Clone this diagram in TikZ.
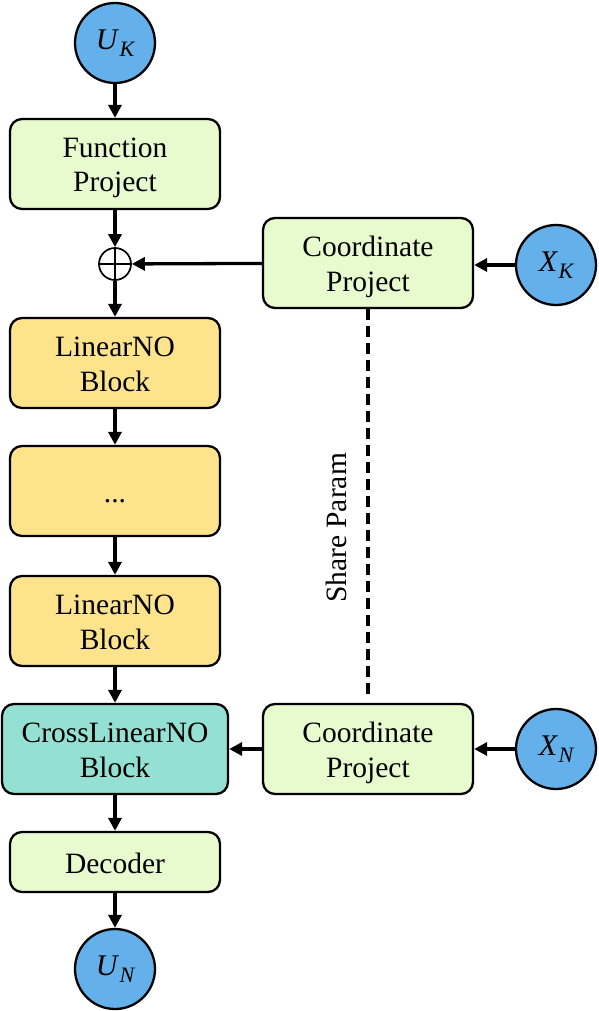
\documentclass[tikz,border=0pt]{standalone}
\usepackage{fontspec}
\setmainfont{Liberation Serif}
\usetikzlibrary{arrows.meta}
\definecolor{lgreen}{RGB}{231,251,206}
\definecolor{lorange}{RGB}{252,227,140}
\definecolor{lteal}{RGB}{148,225,212}
\definecolor{lblue}{RGB}{99,176,235}
\newcommand{\sym}[2]{\textit{#1}\kern0.5pt\raisebox{-7pt}{\fontsize{22}{22}\selectfont\itshape #2}}
\tikzset{
  box/.style={draw=black, line width=2.3pt, rounded corners=12pt, minimum width=210pt, minimum height=90pt, inner sep=0pt, align=center, font=\fontsize{29.5}{35}\selectfont},
  two/.style={text height=56pt, text depth=0pt},
  one/.style={text height=22pt, text depth=0pt},
  io/.style={draw=black, line width=2.3pt, circle, fill=lblue, minimum size=80pt, inner sep=0pt, font=\fontsize{30}{34}\selectfont},
  arr/.style={line width=3.3pt, -{Triangle[length=13pt,width=13pt]}},
}
\begin{document}
\begin{tikzpicture}[x=1pt,y=-1pt]
\useasboundingbox (0,0) rectangle (599,1011);
\node[io] (uk) at (115,43) {\sym{U}{K}};
\node[box, two, fill=lgreen] (fp) at (115,164) {Function\\Project};
\node[draw=black, line width=1.7pt, circle, minimum size=32pt, inner sep=0pt] (plus) at (115,264) {};
\draw[line width=1.7pt] (plus.north) -- (plus.south) (plus.west) -- (plus.east);
\node[box, two, fill=lgreen] (cp1) at (368,263) {Coordinate\\Project};
\node[io] (xk) at (556,265) {\sym{X}{K}};
\node[box, two, fill=lorange] (lb1) at (115,363) {LinearNO\\Block};
\node[box, one, fill=lorange] (dots) at (115,491) {...};
\node[box, two, fill=lorange] (lb2) at (115,621) {LinearNO\\Block};
\node[box, two, fill=lteal, minimum width=226pt] (cross) at (115,749) {CrossLinearNO\\Block};
\node[box, two, fill=lgreen] (cp2) at (368,749) {Coordinate\\Project};
\node[io] (xn) at (556,749) {\sym{X}{N}};
\node[box, one, fill=lgreen, minimum height=60pt] (dec) at (115,862) {Decoder};
\node[io] (un) at (115,969) {\sym{U}{N}};
\node[rotate=90, font=\fontsize{29.5}{35}\selectfont] (share) at (336,528) {Share Param};
\coordinate (dend) at (368,695);
\draw[arr] (uk) -- (fp);
\draw[arr] (fp) -- (plus);
\draw[arr] (plus) -- (lb1);
\draw[arr] (lb1) -- (dots);
\draw[arr] (dots) -- (lb2);
\draw[arr] (lb2) -- (cross);
\draw[arr] (cross) -- (dec);
\draw[arr] (dec) -- (un);
\draw[arr] (cp1) -- (plus);
\draw[arr] (xk.west) -- (cp1.east |- xk.west);
\draw[arr] (cp2) -- (cross);
\draw[arr] (xn) -- (cp2);
\draw[line width=3.2pt, dash pattern=on 11pt off 6pt] (cp1.south) -- (dend);
\end{tikzpicture}
\end{document}
